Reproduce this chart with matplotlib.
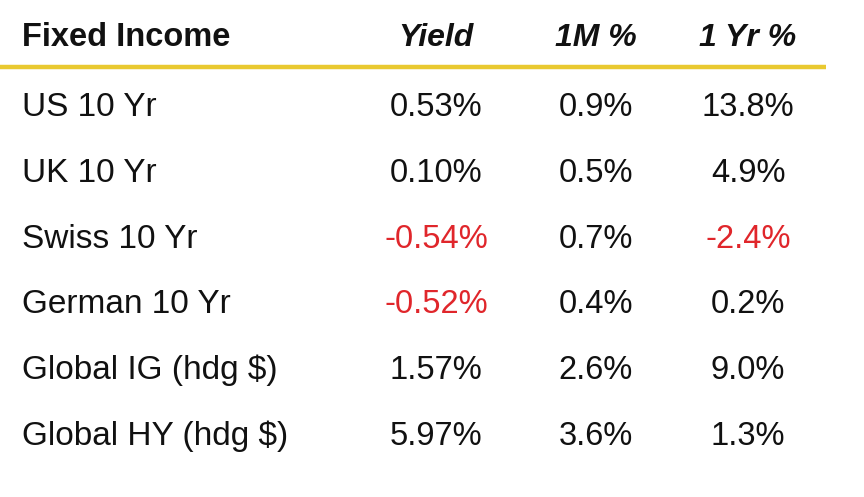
import matplotlib.pyplot as plt

names = ["US 10 Yr", "UK 10 Yr", "Swiss 10 Yr", "German 10 Yr",
         "Global IG (hdg $)", "Global HY (hdg $)"]
yield_pct = [0.53, 0.10, -0.54, -0.52, 1.57, 5.97]
m1_pct = [0.9, 0.5, 0.7, 0.4, 2.6, 3.6]
yr1_pct = [13.8, 4.9, -2.4, 0.2, 9.0, 1.3]
headers = ["Fixed Income", "Yield", "1M %", "1 Yr %"]

plt.rcParams["font.family"] = ["Liberation Sans", "DejaVu Sans"]

red = "#e0262b"
black = "#111111"
fs = 23.5

fig = plt.figure(figsize=(8.64, 4.97), dpi=100)
ax = fig.add_axes([0, 0, 1, 1])
ax.set_xlim(0, 864)
ax.set_ylim(497, 0)
ax.axis("off")

col_x = [22, 436, 596, 748]
head_base = 46
row_base0, row_dy = 116, 65.8

# Header row
ax.text(col_x[0], head_base, headers[0], fontsize=fs, fontweight="bold",
        ha="left", va="baseline", color=black)
for x, h in zip(col_x[1:], headers[1:]):
    ax.text(x, head_base, h, fontsize=fs - 0.5, fontweight="bold", style="italic",
            ha="center", va="baseline", color=black)

ax.plot([0, 826], [67, 67], color="#e9c930", lw=3.2, solid_capstyle="butt")

# Body rows, negatives in red
for i, name in enumerate(names):
    y = row_base0 + i * row_dy
    ax.text(col_x[0], y, name, fontsize=fs + 0.5, ha="left", va="baseline",
            color=black)
    raw = [yield_pct[i], m1_pct[i], yr1_pct[i]]
    vals = [f"{raw[0]:.2f}%", f"{raw[1]:.1f}%", f"{raw[2]:.1f}%"]
    for x, s, v in zip(col_x[1:], vals, raw):
        ax.text(x, y, s, fontsize=fs, ha="center", va="baseline",
                color=red if v < 0 else black)

fig.savefig("out.png", dpi=100)
